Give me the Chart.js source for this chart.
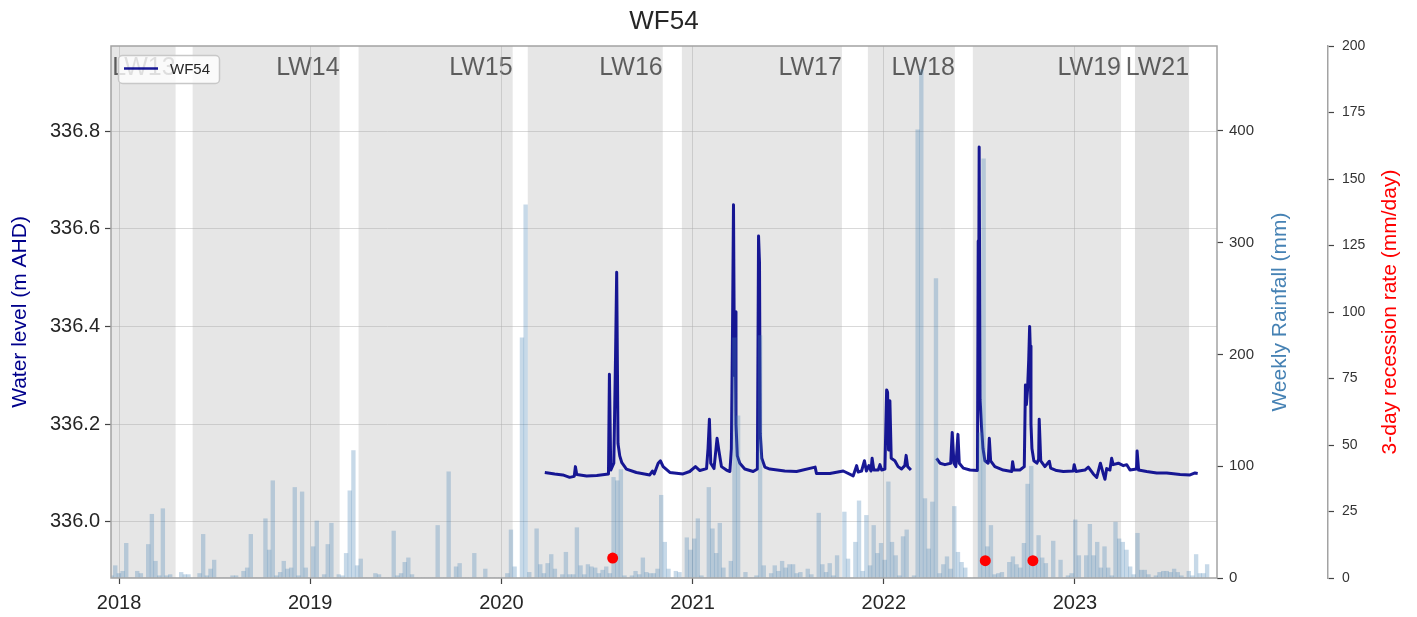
<!DOCTYPE html>
<html>
<head>
<meta charset="utf-8">
<title>WF54</title>
<script src="https://cdn.jsdelivr.net/npm/chart.js@4.4.1/dist/chart.umd.min.js"></script>
<style>
  html, body { margin: 0; padding: 0; background: #fff; }
  #chart { display: block; }
</style>
</head>
<body>
<canvas id="chart" width="1417" height="617"></canvas>
<script>
// WF54 water level vs weekly rainfall, longwall panels shaded behind

// longwall panel extraction periods (decimal years)
const panelNames = ['LW13', 'LW14', 'LW15', 'LW16', 'LW17', 'LW18', 'LW19', 'LW21'];
const panelStart = [2017.50, 2018.385, 2019.253, 2020.138, 2020.944, 2021.917, 2022.466, 2023.314];
const panelEnd   = [2018.296, 2019.154, 2020.059, 2020.844, 2021.781, 2022.372, 2023.241, 2023.597];

// logger water level (m AHD); null = logger gap
const levelDates = [
  2020.227, 2020.279, 2020.321, 2020.357, 2020.381, 2020.387, 2020.394, 2020.446, 2020.499, 2020.560,
  2020.565, 2020.572, 2020.588, 2020.597, 2020.603, 2020.610, 2020.619, 2020.630, 2020.654, 2020.706,
  2020.776, 2020.790, 2020.799, 2020.820, 2020.832, 2020.846, 2020.881, 2020.950, 2020.985, 2021.015,
  2021.038, 2021.073, 2021.081, 2021.088, 2021.095, 2021.112, 2021.128, 2021.137, 2021.151, 2021.177,
  2021.195, 2021.203, 2021.209, 2021.214, 2021.219, 2021.222, 2021.227, 2021.234, 2021.247, 2021.273,
  2021.317, 2021.339, 2021.345, 2021.350, 2021.354, 2021.362, 2021.378, 2021.404, 2021.482, 2021.544,
  2021.641, 2021.648, 2021.718, 2021.788, 2021.840, 2021.858, 2021.866, 2021.884, 2021.899, 2021.909,
  2021.922, 2021.933, 2021.939, 2021.948, 2021.971, 2021.980, 2021.989, 2022.006, 2022.015, 2022.020,
  2022.025, 2022.032, 2022.039, 2022.058, 2022.075, 2022.093, 2022.110, 2022.117, 2022.125, 2022.142,
  2022.160,
  2022.276, 2022.294, 2022.320, 2022.350, 2022.358, 2022.367, 2022.377, 2022.388, 2022.395, 2022.416,
  2022.451, 2022.490, 2022.494, 2022.496, 2022.499, 2022.504, 2022.512, 2022.519, 2022.529, 2022.546,
  2022.552, 2022.559, 2022.581, 2022.625, 2022.669, 2022.674, 2022.681, 2022.712, 2022.735, 2022.741,
  2022.746, 2022.752, 2022.758, 2022.763, 2022.766, 2022.770, 2022.775, 2022.785, 2022.801, 2022.810,
  2022.813, 2022.821, 2022.843, 2022.866, 2022.873, 2022.904, 2022.939, 2022.991, 2022.996, 2023.005,
  2023.052, 2023.070, 2023.096, 2023.114, 2023.133, 2023.147, 2023.157, 2023.166, 2023.183, 2023.192,
  2023.200, 2023.227, 2023.253, 2023.271, 2023.288, 2023.305, 2023.322, 2023.325, 2023.333, 2023.375,
  2023.428, 2023.480, 2023.550, 2023.602, 2023.628, 2023.642
];
const levelValues = [
  336.101, 336.098, 336.096, 336.091, 336.093, 336.113, 336.097, 336.094, 336.095, 336.098,
  336.302, 336.106, 336.120, 336.338, 336.511, 336.160, 336.135, 336.121, 336.108, 336.101,
  336.096, 336.104, 336.098, 336.120, 336.125, 336.113, 336.101, 336.098, 336.103, 336.113,
  336.105, 336.109, 336.151, 336.210, 336.120, 336.109, 336.171, 336.147, 336.113, 336.106,
  336.103, 336.150, 336.400, 336.649, 336.300, 336.430, 336.200, 336.135, 336.120, 336.108,
  336.103, 336.108, 336.585, 336.530, 336.180, 336.130, 336.112, 336.108, 336.104, 336.103,
  336.112, 336.099, 336.099, 336.104, 336.094, 336.115, 336.102, 336.104, 336.125, 336.104,
  336.115, 336.104, 336.130, 336.106, 336.106, 336.117, 336.106, 336.108, 336.270, 336.265,
  336.147, 336.248, 336.130, 336.125, 336.113, 336.108, 336.115, 336.136, 336.113, 336.106,
  null,
  336.130, 336.120, 336.117, 336.120, 336.183, 336.120, 336.113, 336.179, 336.120, 336.110,
  336.106, 336.105, 336.575, 336.380, 336.767, 336.250, 336.190, 336.150, 336.125, 336.120,
  336.171, 336.125, 336.113, 336.106, 336.103, 336.123, 336.106, 336.106, 336.113, 336.280,
  336.240, 336.270, 336.330, 336.400, 336.360, 336.200, 336.150, 336.125, 336.120, 336.128,
  336.210, 336.125, 336.113, 336.124, 336.110, 336.105, 336.103, 336.104, 336.117, 336.103,
  336.106, 336.112, 336.098, 336.091, 336.120, 336.100, 336.087, 336.109, 336.106, 336.130,
  336.117, 336.120, 336.115, 336.117, 336.106, 336.107, 336.108, 336.145, 336.106, 336.103,
  336.100, 336.100, 336.097, 336.096, 336.100, 336.099
];

// weekly rainfall totals (mm), one entry per week from the first week below
const rainFirstWeek = 2017.961;
const rainWeekly = [
    2,  11,   4,   6,  31,   0,   0,   6,   4,   0,
   30,  57,  15,   2,  62,   2,   3,   0,   0,   5,
    3,   3,   0,   0,   4,  39,   2,   8,  16,   0,
    0,   0,   0,   2,   2,   0,   6,   9,  39,   0,
    0,   0,  53,  25,  87,   2,   5,  15,   8,   9,
   81,   2,  77,   9,   0,  28,  51,   0,   3,  30,
   49,   0,   3,   2,  22,  78, 114,  11,  17,   0,
    0,   0,   4,   3,   0,   0,   0,  42,   2,   4,
   14,  18,   3,   0,   0,   0,   0,   0,   0,  47,
    0,   0,  95,   0,  10,  13,   0,   0,   0,  22,
    0,   0,   8,   0,   0,   0,   0,   0,   4,  43,
   10,   0, 215, 334,   5,   0,  44,  12,   4,  13,
   21,   8,   0,   3,  23,   3,   3,  45,  11,   3,
   12,  10,   9,   4,   7,  10,   4,  90,  87,  97,
    2,   0,   2,   6,   3,  18,   5,   4,   4,   8,
   74,  32,   8,   0,   6,   5,   0,  36,  25,  35,
   53,   2,   0,  81,  44,  22,  49,   9,   0,  15,
  215, 145,   0,   5,   0,   0,   2, 217,  11,   0,
    4,  11,   6,  15,   9,  12,  12,   4,   5,   0,
    8,   3,   0,  58,  12,   5,  13,   2,  20,   0,
   59,  17,   0,  32,  69,   6,  56,  11,  47,  22,
   31,  16,  86,  32,  20,   2,  37,  43,   0,   2,
  401, 455,  71,  26,  68, 268,   4,  12,  19,   8,
   64,  23,  14,   9,   0,   0,   0, 130, 375,  28,
   47,   3,   4,   5,   0,  14,  19,  12,   9,  31,
   84, 100,  16,  38,  18,  13,   0,  33,   0,  16,
    0,   2,   4,  52,  20,   0,  20,  48,  20,  32,
    9,  28,   9,   2,  50,  35,  32,  25,  10,   3,
   40,   7,   7,   3,   0,   2,   5,   6,   6,   5,
    8,   5,   2,   0,   6,   2,  21,   4,   4,  12
];

// 3-day recession rate events (mm/day)
const recessionDates = [2020.582, 2022.531, 2022.780];
const recessionValues = [7.5, 6.5, 6.5];

// axis ticks
const yearTicks = [2018, 2019, 2020, 2021, 2022, 2023];
const levelTicks = [336.0, 336.2, 336.4, 336.6, 336.8];
const rainTicks = [0, 100, 200, 300, 400];
const recessionTicks = [0, 25, 50, 75, 100, 125, 150, 175, 200];

const FONT = '"Liberation Sans", Arial, Helvetica, sans-serif';
const WEEK = 7 / 365.25;

const levelData = levelDates.map((d, i) => ({ x: d, y: levelValues[i] }));
const rainData = rainWeekly.map((v, i) => ({ x: rainFirstWeek + i * WEEK, y: v }));
const recessionData = recessionDates.map((d, i) => ({ x: d, y: recessionValues[i] }));

// grey bands for each panel + their labels, under the grid
const panelShading = {
  id: 'panelShading',
  beforeDraw(chart) {
    const { ctx, chartArea: a, scales: { x } } = chart;
    ctx.save();
    ctx.beginPath();
    ctx.rect(a.left, a.top, a.width, a.height);
    ctx.clip();
    panelStart.forEach((s, i) => {
      const x0 = x.getPixelForValue(s);
      const x1 = x.getPixelForValue(panelEnd[i]);
      ctx.fillStyle = panelNames[i] === 'LW21' ? 'rgba(128,128,128,0.24)' : 'rgba(128,128,128,0.2)';
      ctx.fillRect(x0, a.top, x1 - x0, a.height);
    });
    ctx.restore();

    ctx.save();
    ctx.font = '25px ' + FONT;
    ctx.fillStyle = 'rgba(0,0,0,0.6)';
    ctx.textAlign = 'right';
    ctx.textBaseline = 'alphabetic';
    panelNames.forEach((n, i) => {
      ctx.fillText(n, x.getPixelForValue(panelEnd[i]), a.top + 29);
    });
    ctx.restore();
  }
};

// frame, titles and legend box on top
const decorations = {
  id: 'decorations',
  afterDraw(chart) {
    const { ctx, chartArea: a } = chart;
    const midY = (a.top + a.bottom) / 2;
    ctx.save();

    ctx.strokeStyle = '#a3a3a3';
    ctx.lineWidth = 1.5;
    ctx.strokeRect(a.left, a.top, a.width, a.height);

    ctx.fillStyle = '#262626';
    ctx.font = '26px ' + FONT;
    ctx.textAlign = 'center';
    ctx.textBaseline = 'middle';
    ctx.fillText('WF54', (a.left + a.right) / 2, 22);

    const vTitle = (text, x, color) => {
      ctx.save();
      ctx.translate(x, midY);
      ctx.rotate(-Math.PI / 2);
      ctx.fillStyle = color;
      ctx.font = '21px ' + FONT;
      ctx.textAlign = 'center';
      ctx.textBaseline = 'middle';
      ctx.fillText(text, 0, 0);
      ctx.restore();
    };
    vTitle('Water level (m AHD)', 20, '#00008b');
    vTitle('Weekly Rainfall (mm)', 1280, '#4682b4');
    vTitle('3-day recession rate (mm/day)', 1390, '#ff0000');

    // legend
    const lx = 118.5, ly = 55.5, lw = 101, lh = 28;
    ctx.beginPath();
    ctx.roundRect(lx, ly, lw, lh, 4);
    ctx.fillStyle = 'rgba(255,255,255,0.8)';
    ctx.fill();
    ctx.strokeStyle = '#c8c8c8';
    ctx.lineWidth = 1.5;
    ctx.stroke();
    ctx.beginPath();
    ctx.moveTo(124, 68.5);
    ctx.lineTo(158, 68.5);
    ctx.strokeStyle = 'rgba(0,0,139,0.9)';
    ctx.lineWidth = 2.5;
    ctx.stroke();
    ctx.fillStyle = '#262626';
    ctx.font = '15px ' + FONT;
    ctx.textAlign = 'left';
    ctx.textBaseline = 'middle';
    ctx.fillText('WF54', 170, 70);

    ctx.restore();
  }
};

const gridColor = 'rgba(170,170,170,0.45)';
const tickColor = '#444';

new Chart(document.getElementById('chart'), {
  type: 'bar',
  data: {
    datasets: [
      {
        type: 'line',
        label: 'WF54',
        data: levelData,
        yAxisID: 'y',
        borderColor: 'rgba(0,0,139,0.9)',
        borderWidth: 3,
        borderJoinStyle: 'round',
        pointRadius: 0,
        spanGaps: false,
        tension: 0,
        order: 3
      },
      {
        type: 'bar',
        label: 'Weekly Rainfall',
        data: rainData,
        yAxisID: 'rain',
        backgroundColor: 'rgba(70,130,180,0.3)',
        borderWidth: 0,
        barThickness: 3.7,
        grouped: false,
        order: 2
      },
      {
        type: 'scatter',
        label: '3-day recession rate',
        data: recessionData,
        yAxisID: 'rec',
        backgroundColor: '#ff0000',
        borderWidth: 0,
        pointRadius: 5.5,
        order: 1
      }
    ]
  },
  options: {
    responsive: false,
    animation: false,
    devicePixelRatio: 1,
    layout: { padding: { top: 46, left: 0, right: 0, bottom: 0 } },
    plugins: {
      legend: { display: false },
      tooltip: { enabled: false },
      title: { display: false }
    },
    scales: {
      x: {
        type: 'linear',
        offset: false,
        min: 2017.958,
        max: 2023.743,
        afterBuildTicks: s => { s.ticks = yearTicks.map(v => ({ value: v })); },
        afterFit: s => { s.height = 39; },
        ticks: {
          callback: v => String(v),
          color: '#262626',
          font: { family: FONT, size: 20 },
          padding: 7,
          maxRotation: 0
        },
        grid: { offset: false, color: gridColor, lineWidth: 1, tickColor: tickColor, tickLength: 6, tickWidth: 1.2 },
        border: { display: false }
      },
      y: {
        type: 'linear',
        position: 'left',
        min: 335.885,
        max: 336.974,
        afterBuildTicks: s => { s.ticks = levelTicks.map(v => ({ value: v })); },
        afterFit: s => { s.width = 111; },
        ticks: {
          callback: v => v.toFixed(1),
          color: '#262626',
          font: { family: FONT, size: 20 },
          padding: 5
        },
        grid: { color: gridColor, lineWidth: 1, tickColor: tickColor, tickLength: 6, tickWidth: 1.2 },
        border: { display: false }
      },
      rain: {
        type: 'linear',
        position: 'right',
        min: 0,
        max: 476,
        afterBuildTicks: s => { s.ticks = rainTicks.map(v => ({ value: v })); },
        afterFit: s => { s.width = 111; },
        ticks: {
          callback: v => String(v),
          color: '#333',
          font: { family: FONT, size: 15 },
          padding: 6
        },
        grid: { drawOnChartArea: false, tickColor: tickColor, tickLength: 6, tickWidth: 1.2 },
        border: { display: false }
      },
      rec: {
        type: 'linear',
        position: 'right',
        min: 0,
        max: 200,
        afterBuildTicks: s => { s.ticks = recessionTicks.map(v => ({ value: v })); },
        afterFit: s => { s.width = 89; },
        ticks: {
          callback: v => String(v),
          color: '#333',
          font: { family: FONT, size: 14 },
          padding: 8
        },
        grid: { drawOnChartArea: false, tickColor: tickColor, tickLength: 6, tickWidth: 1.2 },
        border: { display: true, color: '#a3a3a3', width: 1.5 }
      }
    }
  },
  plugins: [panelShading, decorations]
});
</script>
</body>
</html>
